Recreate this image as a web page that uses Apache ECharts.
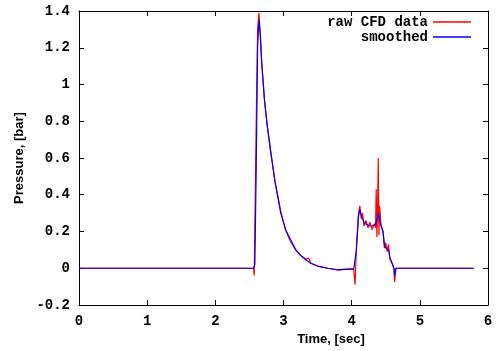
<!DOCTYPE html>
<html>
<head>
<meta charset="utf-8">
<script src="https://cdn.jsdelivr.net/npm/echarts@6/dist/echarts.min.js"></script>
<style>
html,body{margin:0;padding:0;background:#fff;}
#chart{width:496px;height:351px;}
</style>
</head>
<body>
<div id="chart"></div>
<script>
// time samples, [sec]
var timeList = [0, 2.56, 2.57, 2.58, 2.60, 2.62, 2.64, 2.66, 2.68, 2.70, 2.72, 2.76, 2.81, 2.88, 2.92, 2.96,
	3.03, 3.10, 3.18, 3.25, 3.33, 3.37, 3.40, 3.50, 3.65, 3.80, 3.95, 4.03, 4.05, 4.07, 4.10, 4.12,
	4.14, 4.16, 4.18, 4.21, 4.24, 4.27, 4.30, 4.33, 4.35, 4.36, 4.37, 4.38, 4.39, 4.40, 4.41, 4.43,
	4.46, 4.48, 4.50, 4.52, 4.54, 4.56, 4.58, 4.60, 4.62, 4.63, 4.65, 4.68, 5.79];
// raw CFD pressure, [bar]
var rawList = [0, 0, -0.04, -0.04, 0.80, 1.30, 1.39, 1.27, 1.12, 1.02, 0.92, 0.78, 0.64, 0.46, 0.39, 0.31,
	0.21, 0.16, 0.10, 0.07, 0.05, 0.055, 0.027, 0.012, 0.0, -0.01, -0.005, -0.005, -0.09, 0.12, 0.30, 0.34,
	0.27, 0.30, 0.23, 0.26, 0.22, 0.25, 0.21, 0.24, 0.22, 0.43, 0.17, 0.31, 0.60, 0.18, 0.34, 0.24,
	0.20, 0.11, 0.14, 0.09, 0.13, 0.05, 0.04, 0.02, 0.0, -0.075, 0.0, 0, 0];
// smoothed pressure, [bar]
var smoothList = [0, 0, 0, 0.02, 0.55, 1.20, 1.35, 1.27, 1.12, 1.02, 0.92, 0.78, 0.64, 0.46, 0.38, 0.30,
	0.21, 0.15, 0.10, 0.07, 0.045, 0.035, 0.027, 0.012, 0.0, -0.008, -0.005, -0.005, 0.0, 0.10, 0.28, 0.32,
	0.29, 0.27, 0.25, 0.24, 0.235, 0.23, 0.23, 0.235, 0.24, 0.25, 0.26, 0.28, 0.30, 0.28, 0.26, 0.23,
	0.20, 0.13, 0.11, 0.12, 0.10, 0.06, 0.04, 0.02, 0.0, -0.04, 0.0, 0, 0];

var xTicks = { min: 0, max: 6, interval: 1 };
var yTicks = { min: -0.2, max: 1.4, interval: 0.2 };

function pairs(ys){
	var out = [];
	for (var i = 0; i < timeList.length; i++) out.push([timeList[i], ys[i]]);
	return out;
}

var monoFont = 'Liberation Mono';
var sansFont = 'Liberation Sans';
var axisLine = { show: true, onZero: false, lineStyle: { color: '#000', width: 1 } };
var tick = { show: true, inside: true, length: 5, lineStyle: { color: '#000' } };
var legendText = { fontFamily: monoFont, fontWeight: 'bold', fontSize: 14, color: '#000' };

var myChart = echarts.init(document.getElementById('chart'));
myChart.setOption({
	animation: false,
	grid: { left: 79, right: 8, top: 11, bottom: 46, outerBoundsMode: 'none', containLabel: false },
	legend: [{
		data: ['raw CFD data'],
		right: 25, top: 15, padding: 0,
		align: 'right', icon: 'rect', itemWidth: 38, itemHeight: 1.5,
		textStyle: legendText
	}, {
		data: ['smoothed'],
		right: 25, top: 30, padding: 0,
		align: 'right', icon: 'rect', itemWidth: 38, itemHeight: 1.5,
		textStyle: legendText
	}],
	xAxis: [{
		type: 'value', min: xTicks.min, max: xTicks.max, interval: xTicks.interval,
		name: 'Time, [sec]', nameLocation: 'middle', nameGap: 28,
		nameTextStyle: { fontFamily: sansFont, fontWeight: 'bold', fontSize: 13, color: '#000', padding: [0, 0, 0, 95] },
		axisLine: axisLine, axisTick: tick, splitLine: { show: false },
		axisLabel: { margin: 9, fontFamily: monoFont, fontWeight: 'bold', fontSize: 14, color: '#000' }
	}, {
		type: 'value', position: 'top', min: xTicks.min, max: xTicks.max, interval: xTicks.interval,
		axisLine: axisLine, axisTick: tick, splitLine: { show: false }, axisLabel: { show: false }
	}],
	yAxis: [{
		type: 'value', min: yTicks.min, max: yTicks.max, interval: yTicks.interval,
		name: 'Pressure, [bar]', nameLocation: 'middle', nameGap: 51,
		nameTextStyle: { fontFamily: sansFont, fontWeight: 'bold', fontSize: 13, color: '#000' },
		axisLine: axisLine, axisTick: tick, splitLine: { show: false },
		axisLabel: {
			margin: 9, fontFamily: monoFont, fontWeight: 'bold', fontSize: 14, color: '#000',
			formatter: function(v){ return String(Math.round(v * 10) / 10); }
		}
	}, {
		type: 'value', position: 'right', min: yTicks.min, max: yTicks.max, interval: yTicks.interval,
		axisLine: axisLine, axisTick: tick, splitLine: { show: false }, axisLabel: { show: false }
	}],
	series: [{
		name: 'raw CFD data', type: 'line', data: pairs(rawList),
		showSymbol: false, color: '#ff0000', lineStyle: { width: 1.2 }
	}, {
		name: 'smoothed', type: 'line', data: pairs(smoothList),
		showSymbol: false, color: '#0000ff', lineStyle: { width: 1.2 }
	}]
});
</script>
</body>
</html>
